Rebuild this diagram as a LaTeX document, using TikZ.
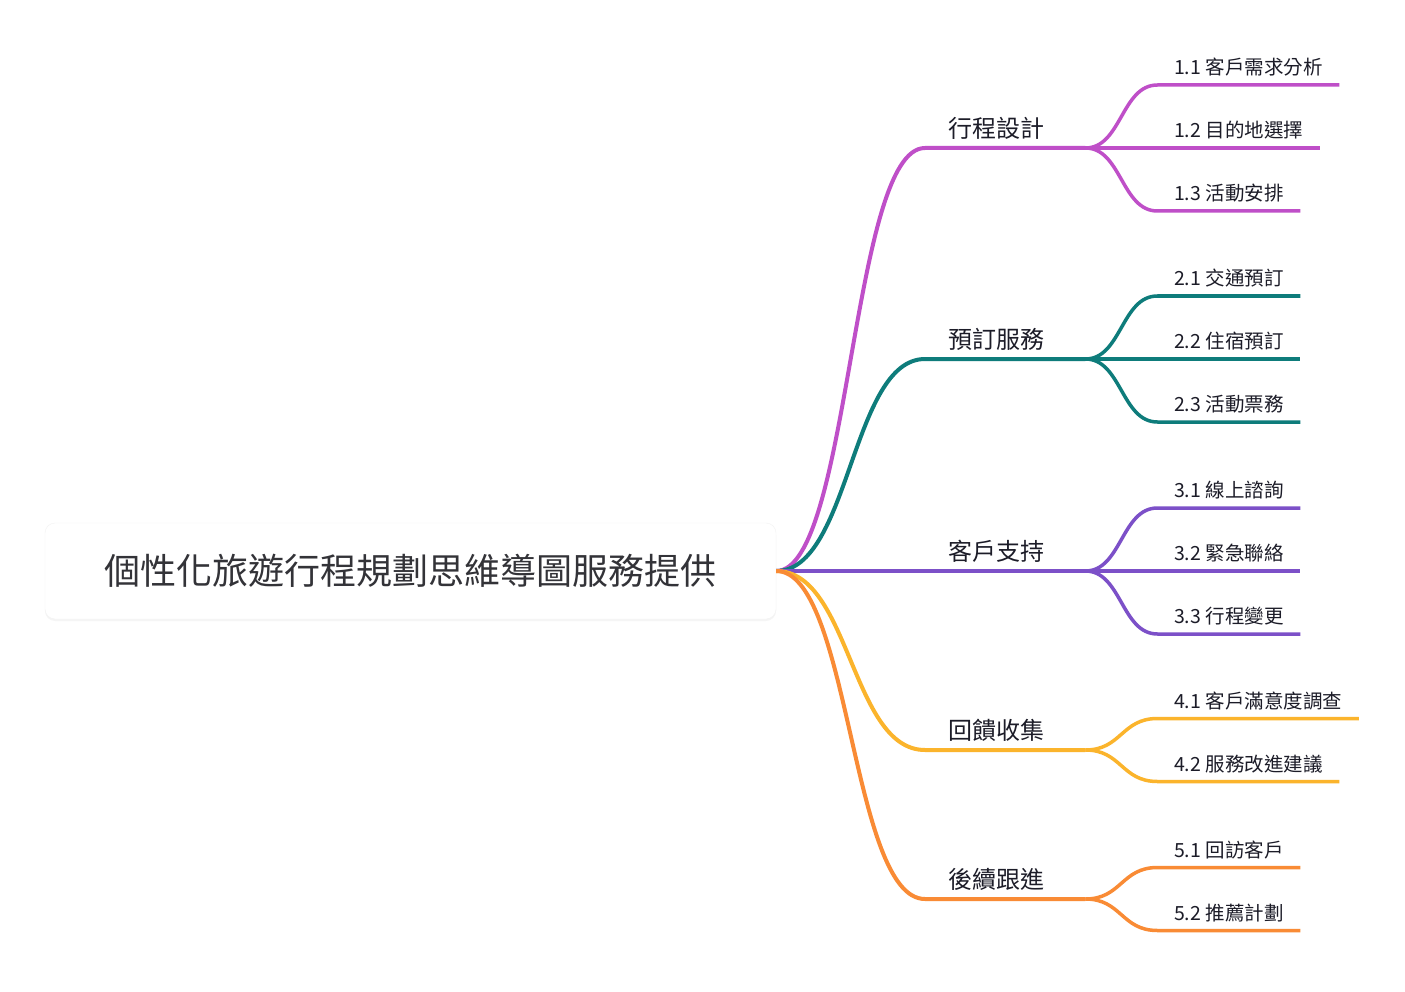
\documentclass[tikz,border=0pt]{standalone}
\usepackage{fontspec}
\setmainfont{Noto Sans CJK TC}
\usetikzlibrary{positioning,shadows}
\definecolor{mmpurple}{RGB}{191,79,200}
\definecolor{mmteal}{RGB}{14,124,123}
\definecolor{mmviolet}{RGB}{124,80,200}
\definecolor{mmyellow}{RGB}{251,180,44}
\definecolor{mmorange}{RGB}{249,139,53}
\definecolor{mmink}{RGB}{28,28,40}
\definecolor{mmgrey}{RGB}{51,51,56}

\begin{document}
\begin{tikzpicture}[x=1pt, y=-1pt,
  root/.style={
    rectangle, rounded corners=10pt, fill=white, draw=black!5,
    minimum width=731pt, minimum height=96pt,
    font=\fontsize{36}{42}\selectfont, text=mmgrey,
    drop shadow={shadow xshift=0pt, shadow yshift=-2pt, opacity=0.08}
  },
  topic/.style={
    anchor=south west, text width=114pt, align=left,
    inner xsep=23pt, inner ysep=10pt, text depth=0pt,
    font=\fontsize{24}{28}\selectfont, text=mmink
  },
  leaf/.style={
    inner xsep=16.5pt, inner ysep=10pt, text depth=0pt,
    font=\fontsize{19.5}{23}\selectfont, text=mmink
  },
  branch/.style={line width=4pt},
  twig/.style={line width=3.5pt}
]
  \useasboundingbox (0,0) rectangle (1405,992);
  \fill[white] (0,0) rectangle (1405,992);

  \node[root] (root) at (410.5,571) {個性化旅遊行程規劃思維導圖服務提供};

  \node[topic] (t1) at (925,148) {行程設計};
  \node[topic] (t2) at (925,359) {預訂服務};
  \node[topic] (t3) at (925,571) {客戶支持};
  \node[topic] (t4) at (925,750) {回饋收集};
  \node[topic] (t5) at (925,899) {後續跟進};

  \node[leaf, above right=63pt and 72pt of t1.south east] (c11) {1.1 客戶需求分析};
  \node[leaf, right=72pt of t1.south east, anchor=south west] (c12) {1.2 目的地選擇};
  \node[leaf, below right=63pt and 72pt of t1.south east, anchor=south west] (c13) {1.3 活動安排};

  \node[leaf, above right=63pt and 72pt of t2.south east] (c21) {2.1 交通預訂};
  \node[leaf, right=72pt of t2.south east, anchor=south west] (c22) {2.2 住宿預訂};
  \node[leaf, below right=63pt and 72pt of t2.south east, anchor=south west] (c23) {2.3 活動票務};

  \node[leaf, above right=63pt and 72pt of t3.south east] (c31) {3.1 線上諮詢};
  \node[leaf, right=72pt of t3.south east, anchor=south west] (c32) {3.2 緊急聯絡};
  \node[leaf, below right=63pt and 72pt of t3.south east, anchor=south west] (c33) {3.3 行程變更};

  \node[leaf, above right=31.5pt and 72pt of t4.south east] (c41) {4.1 客戶滿意度調查};
  \node[leaf, below right=31.5pt and 72pt of t4.south east, anchor=south west] (c42) {4.2 服務改進建議};

  \node[leaf, above right=31.5pt and 72pt of t5.south east] (c51) {5.1 回訪客戶};
  \node[leaf, below right=31.5pt and 72pt of t5.south east, anchor=south west] (c52) {5.2 推薦計劃};

  \foreach \t/\c in {t1/mmpurple,t2/mmteal,t3/mmviolet,t4/mmyellow,t5/mmorange} {
    \draw[branch, \c] (root.east) .. controls +(74,0) and +(-74,0) .. (\t.south west) -- (\t.south east);
  }

  \foreach \t/\l/\c in {t1/c11/mmpurple,t1/c12/mmpurple,t1/c13/mmpurple,
                        t2/c21/mmteal,t2/c22/mmteal,t2/c23/mmteal,
                        t3/c31/mmviolet,t3/c32/mmviolet,t3/c33/mmviolet,
                        t4/c41/mmyellow,t4/c42/mmyellow,
                        t5/c51/mmorange,t5/c52/mmorange} {
    \draw[twig, \c] (\t.south east) .. controls +(36,0) and +(-36,0) .. (\l.south west) -- (\l.south east);
  }
\end{tikzpicture}
\end{document}
